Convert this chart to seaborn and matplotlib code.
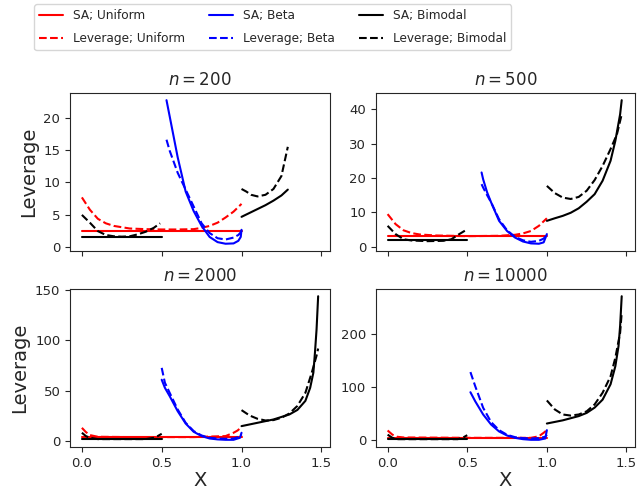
import matplotlib
matplotlib.use("Agg")
import matplotlib.pyplot as plt
import seaborn as sns

# ---------------- data ----------------
SAMPLE_SIZES = [200, 500, 2000, 10000]
Y_TICKS = [[0, 5, 10, 15, 20], [0, 10, 20, 30, 40], [0, 50, 100, 150], [0, 100, 200]]
X_TICKS = [0.0, 0.5, 1.0, 1.5]

# n = 200
SA_UNI_X_200 = [0.0, 1.0]
SA_UNI_Y_200 = [2.5, 2.5]
LEV_UNI_X_200 = [0, .05, .1, .15, .2, .3, .4, .5, .6, .7, .75, .8, .85, .9, .95, 1.0]
LEV_UNI_Y_200 = [7.7, 5.8, 4.4, 3.7, 3.3, 2.9, 2.8, 2.75, 2.75, 2.8, 3.0, 3.3, 3.8, 4.6, 5.5, 6.7]
BETA_X_200 = [0.53, 0.55, 0.6, 0.65, 0.7, 0.75, 0.8, 0.85, 0.9, 0.95, 0.98, 0.995, 1.0]
SA_BETA_Y_200 = [22.7, 20.2, 13.9, 8.6, 5.6, 3.3, 1.6, 0.8, 0.55, 0.6, 1.0, 1.6, 2.7]
LEV_BETA_Y_200 = [16.6, 14.9, 11.5, 8.9, 6.3, 3.7, 2.2, 1.4, 1.2, 1.5, 1.9, 2.3, 2.6]
SA_BIML_X_200 = [0.0, 0.5]
SA_BIML_Y_200 = [1.6, 1.6]
LEV_BIML_X_200 = [0, .05, .1, .15, .2, .25, .3, .35, .4, .45, .49]
LEV_BIML_Y_200 = [5.0, 3.8, 2.5, 1.9, 1.7, 1.64, 1.7, 2.0, 2.4, 3.0, 3.7]
SA_BIMR_X_200 = [1.0, 1.05, 1.1, 1.15, 1.2, 1.25, 1.29]
SA_BIMR_Y_200 = [4.7, 5.3, 5.9, 6.5, 7.2, 8.0, 8.9]
LEV_BIMR_X_200 = [1.0, 1.03, 1.06, 1.1, 1.15, 1.2, 1.25, 1.29]
LEV_BIMR_Y_200 = [9.0, 8.6, 8.1, 7.85, 8.1, 9.0, 11.0, 15.5]

# n = 500
SA_UNI_X_500 = [0.0, 1.0]
SA_UNI_Y_500 = [3.1, 3.1]
LEV_UNI_X_500 = [0, .05, .1, .15, .2, .3, .5, .7, .8, .85, .9, .95, 1.0]
LEV_UNI_Y_500 = [9.5, 6.6, 4.8, 4.0, 3.6, 3.3, 3.1, 3.2, 3.5, 3.9, 4.6, 6.1, 8.3]
BETA_X_500 = [0.59, 0.6, 0.625, 0.65, 0.7, 0.75, 0.8, 0.85, 0.9, 0.95, 0.98, 1.0]
SA_BETA_Y_500 = [21.6, 19.6, 15.8, 12.9, 7.55, 4.6, 2.7, 1.55, 1.0, 0.9, 1.3, 3.7]
LEV_BETA_Y_500 = [18.2, 17.2, 15.0, 12.9, 8.0, 4.8, 2.9, 1.9, 1.45, 1.75, 2.4, 3.5]
SA_BIML_X_500 = [0.0, 0.5]
SA_BIML_Y_500 = [1.9, 1.9]
LEV_BIML_X_500 = [0, .05, .1, .15, .25, .35, .4, .45, .5]
LEV_BIML_Y_500 = [6.1, 3.7, 2.2, 1.85, 1.65, 1.75, 2.2, 3.7, 5.1]
SA_BIMR_X_500 = [1.0, 1.05, 1.1, 1.15, 1.2, 1.25, 1.3, 1.35, 1.4, 1.43, 1.46, 1.47]
SA_BIMR_Y_500 = [7.55, 8.3, 9.0, 9.9, 11.2, 13.1, 15.3, 19.2, 25.0, 30.8, 38.5, 42.6]
LEV_BIMR_X_500 = [1.0, 1.05, 1.1, 1.15, 1.2, 1.25, 1.3, 1.35, 1.4, 1.44, 1.47]
LEV_BIMR_Y_500 = [17.7, 15.6, 14.3, 13.9, 14.5, 16.3, 19.4, 23.5, 28.4, 32.7, 38.5]

# n = 2000
SA_UNI_X_2000 = [0.0, 1.0]
SA_UNI_Y_2000 = [4.0, 4.0]
LEV_UNI_X_2000 = [0, .025, .05, .1, .3, .5, .7, .9, .95, .975, 1.0]
LEV_UNI_Y_2000 = [13.2, 9.0, 6.0, 4.3, 4.0, 4.0, 4.0, 5.0, 8.3, 10.5, 13.9]
BETA_X_2000 = [0.5, 0.52, 0.55, 0.6, 0.65, 0.7, 0.75, 0.8, 0.85, 0.9, 0.95, 0.99, 1.0]
SA_BETA_Y_2000 = [61, 53, 44.7, 29.8, 17.5, 9.3, 5.0, 2.6, 1.7, 1.3, 1.3, 3.3, 8.3]
LEV_BETA_Y_2000 = [72.8, 58, 48, 31.5, 18.2, 10, 5.6, 3.3, 2.6, 2.3, 2.6, 4.5, 6.6]
SA_BIML_X_2000 = [0.0, 0.5]
SA_BIML_Y_2000 = [2.3, 2.3]
LEV_BIML_X_2000 = [0, .025, .05, .1, .4, .45, .475, .5]
LEV_BIML_Y_2000 = [8.3, 5.0, 3.3, 2.0, 2.0, 3.3, 5.0, 7.3]
SA_BIMR_X_2000 = [1.0, 1.1, 1.2, 1.3, 1.35, 1.4, 1.43, 1.45, 1.46, 1.47, 1.48]
SA_BIMR_Y_2000 = [14.9, 18.2, 21.5, 26.5, 31, 40, 53, 68, 88, 111, 144]
LEV_BIMR_X_2000 = [1.0, 1.05, 1.1, 1.15, 1.2, 1.25, 1.3, 1.35, 1.4, 1.44, 1.47, 1.48]
LEV_BIMR_Y_2000 = [30.8, 25.5, 22.2, 20.5, 20.9, 23.2, 27.5, 35, 48, 68, 85, 92]

# n = 10000
SA_UNI_X_10000 = [0.0, 1.0]
SA_UNI_Y_10000 = [5.0, 5.0]
LEV_UNI_X_10000 = [0, .03, .06, .1, .5, .9, .95, .98, 1.0]
LEV_UNI_Y_10000 = [18.9, 11, 7, 5.7, 5, 5, 8, 14.5, 19.5]
BETA_X_10000 = [0.52, 0.55, 0.6, 0.65, 0.7, 0.75, 0.8, 0.85, 0.9, 0.95, 0.99, 1.0]
SA_BETA_Y_10000 = [91, 74, 49, 30, 17, 9.4, 5, 2.5, 1.3, 1.3, 3.8, 19.5]
LEV_BETA_Y_10000 = [129, 102.5, 61.6, 34.6, 19.5, 10.7, 6.3, 4.5, 3.8, 4.4, 7, 11]
SA_BIML_X_10000 = [0.0, 0.5]
SA_BIML_Y_10000 = [2.5, 2.5]
LEV_BIML_X_10000 = [0, .03, .06, .44, .47, .5]
LEV_BIML_Y_10000 = [11, 5, 2.5, 2.5, 5, 10]
SA_BIMR_X_10000 = [1.0, 1.1, 1.2, 1.25, 1.3, 1.35, 1.4, 1.43, 1.45, 1.46, 1.47]
SA_BIMR_Y_10000 = [32, 38, 46, 52, 62, 77, 106, 140, 178, 216, 272]
LEV_BIMR_X_10000 = [1.0, 1.05, 1.1, 1.15, 1.2, 1.25, 1.3, 1.35, 1.4, 1.43, 1.46, 1.47]
LEV_BIMR_Y_10000 = [75.5, 58.5, 49, 47, 49, 55, 68, 90, 121, 156, 203, 241]

PANELS = {
    200: dict(sa_uni=(SA_UNI_X_200, SA_UNI_Y_200), lev_uni=(LEV_UNI_X_200, LEV_UNI_Y_200),
              sa_beta=(BETA_X_200, SA_BETA_Y_200), lev_beta=(BETA_X_200, LEV_BETA_Y_200),
              sa_biml=(SA_BIML_X_200, SA_BIML_Y_200), lev_biml=(LEV_BIML_X_200, LEV_BIML_Y_200),
              sa_bimr=(SA_BIMR_X_200, SA_BIMR_Y_200), lev_bimr=(LEV_BIMR_X_200, LEV_BIMR_Y_200)),
    500: dict(sa_uni=(SA_UNI_X_500, SA_UNI_Y_500), lev_uni=(LEV_UNI_X_500, LEV_UNI_Y_500),
              sa_beta=(BETA_X_500, SA_BETA_Y_500), lev_beta=(BETA_X_500, LEV_BETA_Y_500),
              sa_biml=(SA_BIML_X_500, SA_BIML_Y_500), lev_biml=(LEV_BIML_X_500, LEV_BIML_Y_500),
              sa_bimr=(SA_BIMR_X_500, SA_BIMR_Y_500), lev_bimr=(LEV_BIMR_X_500, LEV_BIMR_Y_500)),
    2000: dict(sa_uni=(SA_UNI_X_2000, SA_UNI_Y_2000), lev_uni=(LEV_UNI_X_2000, LEV_UNI_Y_2000),
               sa_beta=(BETA_X_2000, SA_BETA_Y_2000), lev_beta=(BETA_X_2000, LEV_BETA_Y_2000),
               sa_biml=(SA_BIML_X_2000, SA_BIML_Y_2000), lev_biml=(LEV_BIML_X_2000, LEV_BIML_Y_2000),
               sa_bimr=(SA_BIMR_X_2000, SA_BIMR_Y_2000), lev_bimr=(LEV_BIMR_X_2000, LEV_BIMR_Y_2000)),
    10000: dict(sa_uni=(SA_UNI_X_10000, SA_UNI_Y_10000), lev_uni=(LEV_UNI_X_10000, LEV_UNI_Y_10000),
                sa_beta=(BETA_X_10000, SA_BETA_Y_10000), lev_beta=(BETA_X_10000, LEV_BETA_Y_10000),
                sa_biml=(SA_BIML_X_10000, SA_BIML_Y_10000), lev_biml=(LEV_BIML_X_10000, LEV_BIML_Y_10000),
                sa_bimr=(SA_BIMR_X_10000, SA_BIMR_Y_10000), lev_bimr=(LEV_BIMR_X_10000, LEV_BIMR_Y_10000)),
}

# series: key, colour, linestyle, legend label
SERIES = [
    ("sa_uni", "red", "-", "SA; Uniform"),
    ("lev_uni", "red", "--", "Leverage; Uniform"),
    ("sa_beta", "blue", "-", "SA; Beta"),
    ("lev_beta", "blue", "--", "Leverage; Beta"),
    ("sa_biml", "black", "-", "SA; Bimodal"),
    ("lev_biml", "black", "--", "Leverage; Bimodal"),
    ("sa_bimr", "black", "-", None),
    ("lev_bimr", "black", "--", None),
]

# ---------------- plotting ----------------
sns.set_style("ticks")
plt.rcParams['font.family'] = ['DejaVu Sans']

fig = plt.figure(figsize=(6.37, 4.92), dpi=100)
positions = [
    [0.110, 0.490, 0.408, 0.321],
    [0.590, 0.490, 0.407, 0.321],
    [0.110, 0.0915, 0.408, 0.321],
    [0.590, 0.0915, 0.407, 0.321],
]
axes = []
for i, pos in enumerate(positions):
    ax = fig.add_axes(pos, sharex=axes[0] if axes else None)
    axes.append(ax)

for i, (ax, n) in enumerate(zip(axes, SAMPLE_SIZES)):
    data = PANELS[n]
    for key, col, ls, lab in SERIES:
        xs, ys = data[key]
        sns.lineplot(x=xs, y=ys, ax=ax, color=col, linestyle=ls, linewidth=1.5,
                     sort=False, estimator=None, legend=False)
    ax.set_title(f"$n = {n}$", fontsize=12)
    ax.set_yticks(Y_TICKS[i])
    ax.set_xticks(X_TICKS)
    ax.tick_params(labelsize=9.5)
    if i % 2 == 0:
        ax.set_ylabel("Leverage", fontsize=14)
    if i >= 2:
        ax.set_xlabel("X", fontsize=14, labelpad=1)
    else:
        ax.tick_params(labelbottom=False)
    for s in ax.spines.values():
        s.set_visible(True)

handles, labels = [], []
for key, col, ls, lab in SERIES:
    if lab is None:
        continue
    handles.append(plt.Line2D([], [], color=col, linestyle=ls, linewidth=1.5))
    labels.append(lab)

fig.legend(handles, labels, ncol=3, loc="upper center", bbox_to_anchor=(0.428, 1.0),
           borderaxespad=0.35, fontsize=8.7, frameon=True, columnspacing=2.0,
           handlelength=2.0, labelspacing=0.85)

fig.savefig("out.png", dpi=100)
